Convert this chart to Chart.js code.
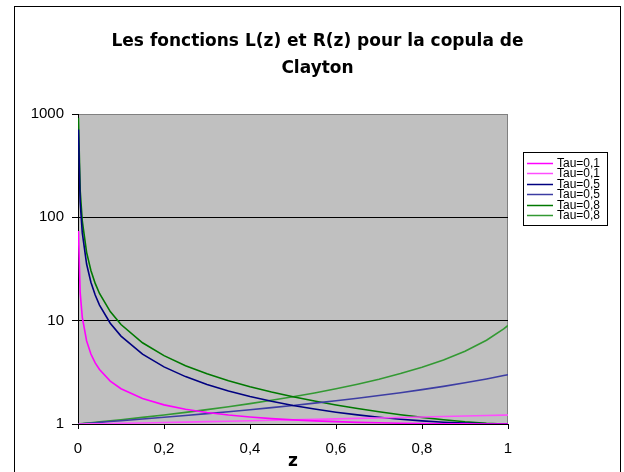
<!DOCTYPE html>
<html>
<head>
<meta charset="utf-8">
<script src="https://cdn.jsdelivr.net/npm/chart.js@4/dist/chart.umd.min.js"></script>
<style>
  html, body { margin: 0; padding: 0; background: #fff; }
  canvas { display: block; }
</style>
</head>
<body>
<canvas id="chart" width="624" height="472"></canvas>
<script>
// Données
const titleLines = ['Les fonctions L(z) et R(z) pour la copula de', 'Clayton'];
const xTitle = 'z';
const seriesLabels = ['Tau=0,1', 'Tau=0,1', 'Tau=0,5', 'Tau=0,5', 'Tau=0,8', 'Tau=0,8'];
const yTicks = [1, 10, 100, 1000];

const zVals = [0.001, 0.005, 0.01, 0.02, 0.03, 0.04, 0.05, 0.075, 0.1, 0.15, 0.2, 0.25, 0.3, 0.35,
  0.4, 0.45, 0.5, 0.55, 0.6, 0.65, 0.7, 0.75, 0.8, 0.85, 0.9, 0.95, 0.99, 1];

// L(z), décroissantes
const lTau01 = [73.81, 18.76, 10.78, 6.369, 4.758, 3.902, 3.364, 2.603, 2.196, 1.763, 1.532, 1.388, 1.291, 1.220,
  1.168, 1.128, 1.097, 1.073, 1.054, 1.038, 1.027, 1.017, 1.011, 1.006, 1.002, 1.001, 1.000, 1];
const lTau05 = [707.1, 141.4, 70.71, 35.36, 23.58, 17.69, 14.15, 9.441, 7.089, 4.741, 3.571, 2.874, 2.412, 2.085,
  1.843, 1.658, 1.512, 1.396, 1.301, 1.225, 1.163, 1.112, 1.072, 1.041, 1.019, 1.005, 1.0002, 1];
const lTau08 = [917.0, 183.4, 91.70, 45.85, 30.57, 22.93, 18.34, 12.23, 9.170, 6.113, 4.585, 3.668, 3.057, 2.620,
  2.293, 2.038, 1.834, 1.668, 1.530, 1.414, 1.315, 1.231, 1.159, 1.099, 1.050, 1.015, 1.0008, 1];

// R(z), croissantes
const rTau01 = [1.0001, 1.0004, 1.0010, 1.0022, 1.0036, 1.0050, 1.0065, 1.0105, 1.0148, 1.0237, 1.0332, 1.0431, 1.0534, 1.0639,
  1.0747, 1.0858, 1.0971, 1.1086, 1.1204, 1.1324, 1.1446, 1.1570, 1.1696, 1.1824, 1.1955, 1.2087, 1.2195, 1.2222];
const rTau05 = [1.0007, 1.0036, 1.0071, 1.0143, 1.0216, 1.0290, 1.0364, 1.0555, 1.0752, 1.1165, 1.1607, 1.2082, 1.2593, 1.3146,
  1.3747, 1.4401, 1.5119, 1.5908, 1.6783, 1.7757, 1.8850, 2.0087, 2.1499, 2.3126, 2.503, 2.728, 2.941, 3];
const rTau08 = [1.0009, 1.0046, 1.0093, 1.0187, 1.0283, 1.0381, 1.0480, 1.0738, 1.1009, 1.1592, 1.2241, 1.2965, 1.3778, 1.4697,
  1.5745, 1.6949, 1.8344, 1.9981, 2.1924, 2.4265, 2.7138, 3.0748, 3.5421, 4.1714, 5.069, 6.466, 8.337, 9];

const seriesValues = [lTau01, rTau01, lTau05, rTau05, lTau08, rTau08];
const seriesColors = ['#ff00ff', '#ff4dff', '#000080', '#3d3da3', '#007800', '#339933'];

// format "0,2"
function formatComma(v) {
  const r = Math.round(v * 10) / 10;
  return String(r).replace('.', ',');
}

function toPoints(values) {
  return zVals.map((z, i) => ({ x: z, y: values[i] }));
}

// fond gris, cadre, légende encadrée
const decorPlugin = {
  id: 'decor',
  beforeDraw(chart) {
    const { ctx, chartArea: a } = chart;
    ctx.save();
    ctx.fillStyle = '#fff';
    ctx.fillRect(0, 0, chart.width, chart.height);
    ctx.strokeStyle = '#000';
    ctx.lineWidth = 1;
    ctx.strokeRect(14.5, 6.5, 606, 500);
    ctx.fillStyle = '#c0c0c0';
    ctx.fillRect(a.left, a.top, a.right - a.left, a.bottom - a.top);
    ctx.strokeStyle = '#808080';
    ctx.strokeRect(a.left + 0.5, a.top + 0.5, a.right - a.left - 1, a.bottom - a.top);
    ctx.restore();
  },
  afterDraw(chart) {
    const ctx = chart.ctx;
    const box = { x: 523, y: 152, w: 84, h: 73 };
    ctx.save();
    ctx.strokeStyle = '#000';
    ctx.lineWidth = 1;
    ctx.strokeRect(box.x + 0.5, box.y + 0.5, box.w, box.h);
    ctx.font = '12px "Liberation Sans", Arial, sans-serif';
    ctx.textBaseline = 'middle';
    ctx.fillStyle = '#000';
    chart.data.datasets.forEach((ds, i) => {
      const y = Math.round(box.y + 10.7 + i * 10.5) + 0.5;
      ctx.strokeStyle = ds.borderColor;
      ctx.lineWidth = 1.5;
      ctx.beginPath();
      ctx.moveTo(box.x + 4, y);
      ctx.lineTo(box.x + 30, y);
      ctx.stroke();
      ctx.fillText(ds.label, box.x + 34, y);
    });
    ctx.restore();
  }
};

const ctx = document.getElementById('chart').getContext('2d');
new Chart(ctx, {
  type: 'line',
  data: {
    datasets: seriesValues.map((vals, i) => ({
      label: seriesLabels[i],
      data: toPoints(vals),
      borderColor: seriesColors[i],
      backgroundColor: seriesColors[i],
      borderWidth: 1.6,
      pointRadius: 0,
      tension: 0,
      fill: false
    }))
  },
  options: {
    responsive: false,
    animation: false,
    devicePixelRatio: 1,
    layout: { padding: { top: 0, left: 14, right: 3, bottom: 0 } },
    plugins: {
      legend: { display: false },
      tooltip: { enabled: false },
      title: {
        display: true,
        text: titleLines,
        color: '#000',
        font: { family: '"DejaVu Sans", sans-serif', size: 17, weight: 'bold', lineHeight: '27px' },
        padding: { top: 28, bottom: 32 }
      }
    },
    scales: {
      x: {
        type: 'linear',
        min: 0,
        max: 1,
        afterFit: s => { s.height = 48; },
        ticks: {
          stepSize: 0.2,
          color: '#000',
          padding: 11,
          font: { family: '"Liberation Sans", Arial, sans-serif', size: 15 },
          callback: v => formatComma(v)
        },
        grid: { drawOnChartArea: false, color: '#000', tickLength: 5 },
        border: { color: '#000', width: 1 },
        title: {
          display: true,
          text: xTitle,
          color: '#000',
          padding: 0,
          font: { family: '"DejaVu Sans", sans-serif', size: 17, weight: 'bold' }
        }
      },
      y: {
        type: 'logarithmic',
        min: 1,
        max: 1000,
        afterFit: s => { s.width = 64; },
        afterBuildTicks: s => { s.ticks = yTicks.map(v => ({ value: v })); },
        ticks: {
          color: '#000',
          padding: 8,
          font: { family: '"Liberation Sans", Arial, sans-serif', size: 15 },
          callback: v => String(v)
        },
        grid: {
          color: c => (c.tick && (c.tick.value === 10 || c.tick.value === 100)) ? '#000' : 'rgba(0,0,0,0)',
          tickColor: '#000',
          tickLength: 6,
          lineWidth: 1
        },
        border: { color: '#000', width: 1 }
      },
      // place réservée à la légende à droite
      yRight: {
        type: 'linear',
        position: 'right',
        afterFit: s => { s.width = 113; },
        ticks: { display: false },
        grid: { display: false },
        border: { display: false }
      }
    }
  },
  plugins: [decorPlugin]
});
</script>
</body>
</html>
